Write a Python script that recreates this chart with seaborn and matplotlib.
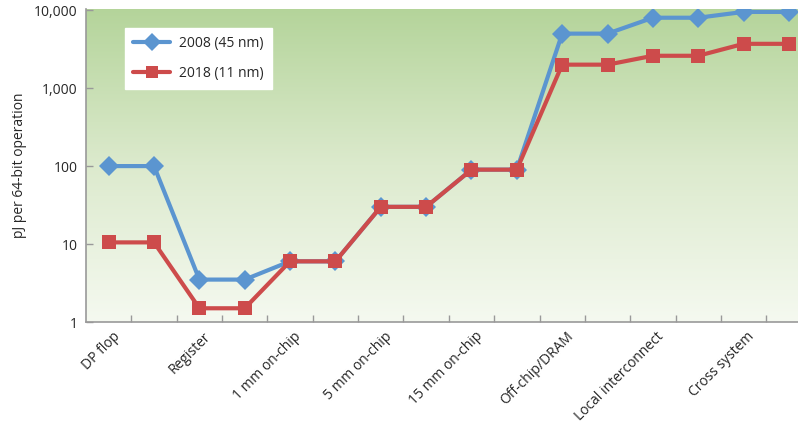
import numpy as np
import pandas as pd
import matplotlib
matplotlib.use("Agg")
import matplotlib.pyplot as plt
import seaborn as sns
from matplotlib.colors import LinearSegmentedColormap

# 資料
categories = ["DP flop", "Register", "1 mm on-chip", "5 mm on-chip",
              "15 mm on-chip", "Off-chip/DRAM", "Local interconnect", "Cross system"]
energy_2008 = [100, 100, 3.5, 3.5, 6, 6, 30, 30, 90, 90, 5000, 5000, 8000, 8000, 9500, 9500]
energy_2018 = [10.5, 10.5, 1.5, 1.5, 6, 6, 30, 30, 90, 90, 2000, 2000, 2600, 2600, 3700, 3700]
series_names = ["2008 (45 nm)", "2018 (11 nm)"]

sns.set_theme(style="white")
plt.rcParams['font.family'] = ['Open Sans', 'DejaVu Sans']

fig = plt.figure(figsize=(7.98, 4.23), dpi=100)
ax = fig.add_axes([86 / 798, 1 - 322 / 423, 1 - 86 / 798, 313 / 423])

# 漸層背景
cmap = LinearSegmentedColormap.from_list("bg", ["#f5f9f0", "#dceacd", "#b4d49a"])
grad = np.linspace(0, 1, 256).reshape(-1, 1)
ax.imshow(grad, cmap=cmap, extent=[0, 1, 0, 1], transform=ax.transAxes,
          aspect="auto", origin="lower", zorder=0)

x = np.arange(len(energy_2008))
sns.lineplot(x=x, y=energy_2008, ax=ax, color="#5b95d0", linewidth=3,
             marker="D", markersize=10, markeredgewidth=0, label=series_names[0], zorder=3)
sns.lineplot(x=x, y=energy_2018, ax=ax, color="#cd4b4b", linewidth=3,
             marker="s", markersize=10, markeredgewidth=0, label=series_names[1], zorder=4)

ax.set_yscale("log")
ax.set_ylim(1, 10 ** 4.015)
ax.set_xlim(-0.5, 15.2)
ax.set_yticks([1, 10, 100, 1000, 10000])
ax.set_yticklabels(["1", "10", "100", "1,000", "10,000"], fontsize=10)
ax.yaxis.set_minor_locator(matplotlib.ticker.NullLocator())
ax.tick_params(axis="y", which="major", direction="in", length=5, width=1,
               color="#999999", pad=6, left=True)

# x 軸刻度：分隔線與標籤
ax.set_xticks(np.arange(0, 16, 2) + 0.08)
ax.set_xticklabels(categories, rotation=45, ha="right", rotation_mode="anchor", fontsize=10)
ax.set_xticks(np.arange(0, 15) + 0.5, minor=True)
ax.tick_params(axis="x", which="major", length=0, pad=5)
ax.tick_params(axis="x", which="minor", direction="in", length=5, width=1,
               color="#999999", bottom=True)

ax.set_ylabel("pJ per 64-bit operation", fontsize=10)
ax.yaxis.set_label_coords(-0.083, 0.5)

for side in ["top", "right"]:
    ax.spines[side].set_visible(False)
for side in ["left", "bottom"]:
    ax.spines[side].set_color("#999999")
    ax.spines[side].set_linewidth(1.2)

leg = ax.legend(loc="upper left", bbox_to_anchor=(0.055, 0.94), fontsize=10,
                frameon=True, fancybox=False, edgecolor="white", facecolor="white",
                framealpha=1, handlelength=2.6, labelspacing=1.05, borderpad=0.6,
                borderaxespad=0, handletextpad=0.7, markerscale=0.9)

fig.savefig("out.png", dpi=100)
